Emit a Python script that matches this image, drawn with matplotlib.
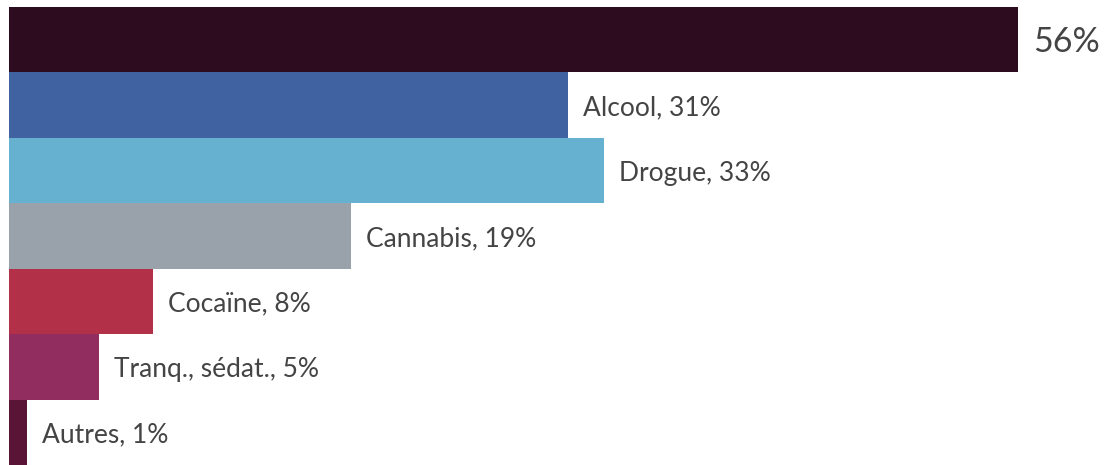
import matplotlib
matplotlib.use("Agg")
import matplotlib.pyplot as plt

categories = ["", "Alcool", "Drogue", "Cannabis", "Cocaïne", "Tranq., sédat.", "Autres"]
values = [56, 31, 33, 19, 8, 5, 1]
colors = ["#2d0c1f", "#4162a0", "#66b1cf", "#99a1aa", "#b23148", "#922d5f", "#5a1436"]

W, H = 1104, 465
fig = plt.figure(figsize=(W / 100, H / 100), dpi=100)
ax = fig.add_axes([0, 0, 1, 1])

ppu = (1018 - 9) / 56.0
ax.set_xlim(-9 / ppu, (W - 9) / ppu)
bar_px = (H - 7) / 7.0
top = -0.5 - 7 / bar_px
ax.set_ylim(top + H / bar_px, top)

ys = list(range(len(values)))
ax.barh(ys, values, height=1.0, color=colors, edgecolor="none")

gap = 15 / ppu
for i, (c, v) in enumerate(zip(categories, values)):
    if c:
        label = f"{c}, {v}%"
        fs = 19
    else:
        label = f"{v}%"
        fs = 24.5
    ax.text(v + gap, i + 0.04, label, va="center", ha="left", fontsize=fs,
            color="#444444", family=["Lato", "DejaVu Sans"])

ax.axis("off")
fig.savefig("out.png", dpi=100)
